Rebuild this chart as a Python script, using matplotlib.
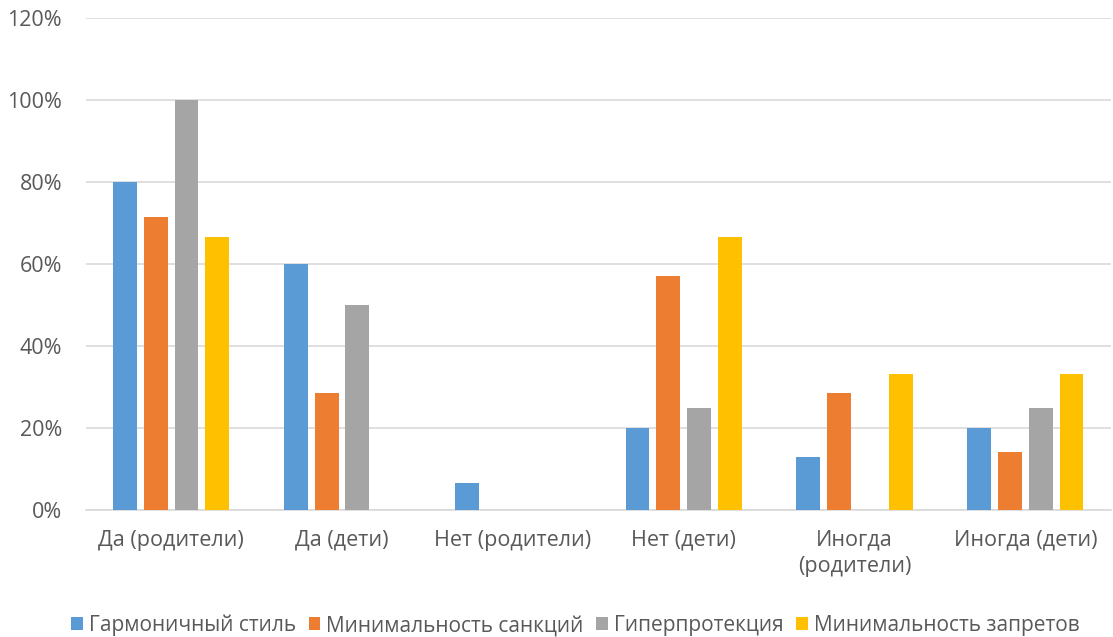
import numpy as np
import matplotlib.pyplot as plt
from matplotlib.ticker import PercentFormatter

plt.rcParams['font.family'] = ['Open Sans', 'DejaVu Sans']

categories = ['Да (родители)', 'Да (дети)', 'Нет (родители)', 'Нет (дети)',
              'Иногда\n(родители)', 'Иногда (дети)']
series = ['Гармоничный стиль', 'Минимальность санкций', 'Гиперпротекция', 'Минимальность запретов']
colors = ['#5B9BD5', '#ED7D31', '#A5A5A5', '#FFC000']

garmon = [80, 60, 6.7, 20, 13, 20]
sankc = [71.4, 28.6, 0, 57.1, 28.6, 14.3]
giper = [100, 50, 0, 25, 0, 25]
zapret = [66.7, 0, 0, 66.7, 33.3, 33.3]
values = [garmon, sankc, giper, zapret]

fig = plt.figure(figsize=(11.13, 6.37), dpi=100)
ax = fig.add_axes([0.077, 0.199, 0.921, 0.773])

x = np.arange(len(categories))
step = 0.18
for i, (vals, name, c) in enumerate(zip(values, series, colors)):
    ax.bar(x + (i - 1.5) * step, vals, width=0.14, color=c, label=name, zorder=3)

ax.set_xlim(-0.5, len(categories) - 0.5)
ax.set_ylim(0, 120)
ax.set_yticks(range(0, 121, 20))
ax.yaxis.set_major_formatter(PercentFormatter(decimals=0))
ax.set_xticks(x)
ax.set_xticklabels(categories, linespacing=1.35)
ax.grid(axis='y', color='#D9D9D9', linewidth=1.2, zorder=0)
for s in ['top', 'right', 'left']:
    ax.spines[s].set_visible(False)
ax.spines['bottom'].set_color('#D9D9D9')
ax.spines['bottom'].set_linewidth(1.2)
ax.tick_params(axis='both', length=0, labelsize=15.5, colors='#595959')
ax.tick_params(axis='x', pad=14)
ax.tick_params(axis='y', pad=17)

fig.legend(loc='lower center', bbox_to_anchor=(0.517, -0.028), ncol=4, frameon=False,
           fontsize=15, labelcolor='#595959', handlelength=0.55, handleheight=0.55,
           handletextpad=0.3, columnspacing=0.6)

fig.savefig('out.png', dpi=100)
